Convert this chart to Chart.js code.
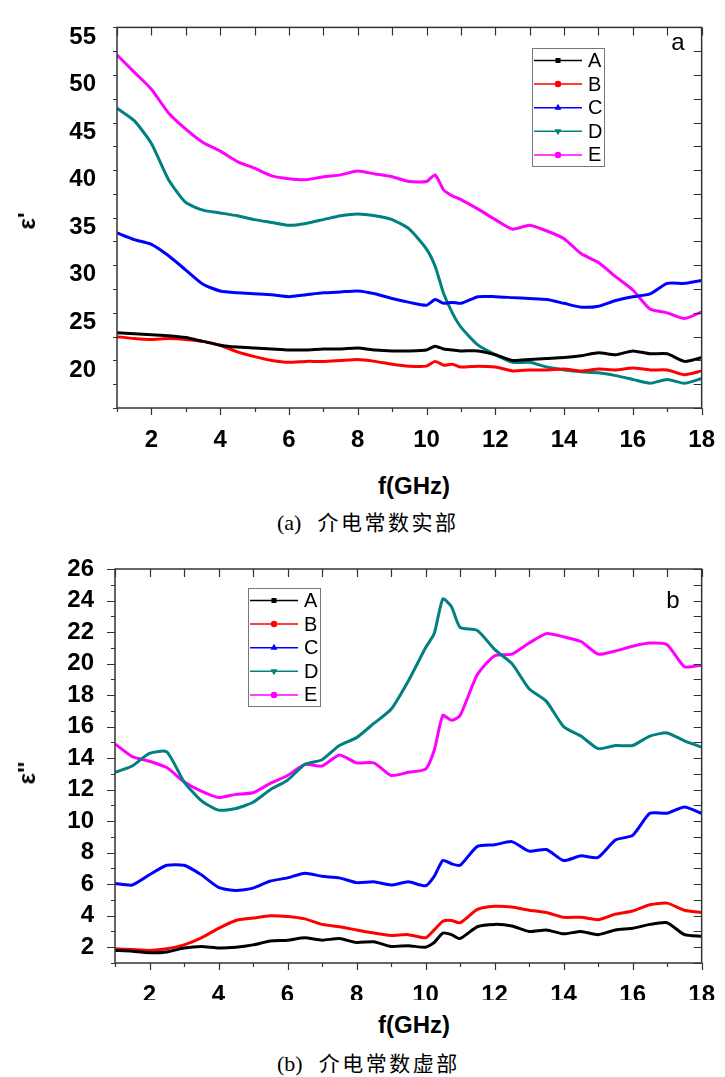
<!DOCTYPE html>
<html>
<head>
<meta charset="utf-8">
<script src="https://cdn.jsdelivr.net/npm/chart.js@4.4.0/dist/chart.umd.min.js"></script>
<style>
    body { margin: 0; background: #fff; width: 725px; height: 1077px; position: relative; overflow: hidden; }
    .wrap { position: absolute; left: 0; width: 725px; }
    .txt { position: absolute; transform: translate(-50%, -50%); white-space: nowrap; color: #000; }
    .bold { font-family: 'Liberation Sans', Arial, sans-serif; font-weight: bold; font-size: 24px; }
    .tag { font-family: 'Liberation Sans', Arial, sans-serif; font-size: 24px; }
    .rot { transform: translate(-50%, -50%) rotate(-90deg); }
    .cap { position: absolute; white-space: nowrap; transform: translateY(-50%); }
    .cap .ser { font-family: 'Liberation Serif', 'Times New Roman', serif; font-size: 22px; }
    .cap .cjk { font-family: 'Noto Sans CJK SC', sans-serif; font-size: 21px; letter-spacing: 2.5px; margin-left: 16px; }
</style>
</head>
<body>

<div class="wrap" style="top:0;height:470px"><canvas id="realChart" width="725" height="470"></canvas></div>
<div class="wrap" style="top:540px;height:460px"><canvas id="imagChart" width="725" height="460"></canvas></div>

<div class="txt bold rot" style="left:27px;top:221px">ε'</div>
<div class="txt bold" style="left:414px;top:486px">f(GHz)</div>
<div class="cap" style="left:277px;top:521px"><span class="ser">(a)</span><span class="cjk">介电常数实部</span></div>
<div class="txt tag" style="left:678px;top:42px">a</div>

<div class="txt bold rot" style="left:27px;top:773px">ε''</div>
<div class="txt bold" style="left:414px;top:1025px">f(GHz)</div>
<div class="cap" style="left:277px;top:1062px"><span class="ser">(b)</span><span class="cjk">介电常数虚部</span></div>
<div class="txt tag" style="left:673px;top:600px">b</div>

<script>
// --- DATA ---

const freq = [1, 1.5, 2, 2.5, 3, 3.5, 4, 4.5, 5, 5.5, 6, 6.5, 7, 7.5, 8, 8.5, 9, 9.5, 10,
    10.25, 10.5, 10.75, 11, 11.5, 12, 12.5, 13, 13.5, 14, 14.5, 15, 15.5, 16, 16.5, 17, 17.5, 18];

const sampleNames = ['A', 'B', 'C', 'D', 'E'];

// (a) real part
const realA = [23.9, 23.8, 23.7, 23.6, 23.4, 23.0, 22.6, 22.4, 22.3, 22.2, 22.1, 22.1, 22.2, 22.2, 22.3, 22.1, 22.0, 22.0, 22.1,
    22.5, 22.2, 22.1, 22.0, 22.0, 21.6, 21.0, 21.1, 21.2, 21.3, 21.5, 21.8, 21.6, 22.0, 21.7, 21.7, 20.9, 21.3];
const realB = [23.5, 23.3, 23.2, 23.3, 23.2, 23.0, 22.6, 21.9, 21.4, 21.0, 20.8, 20.9, 20.9, 21.0, 21.1, 20.9, 20.6, 20.4, 20.4,
    20.9, 20.5, 20.6, 20.3, 20.4, 20.3, 19.9, 20.0, 20.0, 20.1, 19.9, 20.1, 20.0, 20.2, 20.0, 20.0, 19.5, 19.9];
const realC = [34.4, 33.7, 33.2, 32.0, 30.5, 29.0, 28.3, 28.1, 28.0, 27.9, 27.7, 27.9, 28.1, 28.2, 28.3, 28.0, 27.5, 27.1, 26.8,
    27.4, 27.0, 27.1, 27.0, 27.7, 27.7, 27.6, 27.5, 27.4, 27.0, 26.6, 26.7, 27.3, 27.7, 28.0, 29.1, 29.1, 29.4];
const realD = [47.5, 46.2, 43.8, 40.0, 37.6, 36.8, 36.5, 36.2, 35.8, 35.5, 35.2, 35.4, 35.8, 36.2, 36.4, 36.2, 35.8, 34.8, 32.7,
    30.9, 28.0, 26.0, 24.5, 22.6, 21.6, 20.8, 20.8, 20.3, 20.0, 19.8, 19.7, 19.4, 19.0, 18.6, 19.0, 18.6, 19.1];
const realE = [53.1, 51.3, 49.5, 47.0, 45.3, 43.9, 43.0, 41.9, 41.2, 40.4, 40.1, 40.0, 40.3, 40.5, 40.9, 40.6, 40.3, 39.8, 39.8,
    40.5, 38.9, 38.3, 37.9, 36.9, 35.8, 34.8, 35.2, 34.6, 33.8, 32.2, 31.3, 29.8, 28.4, 26.4, 26.0, 25.4, 26.1];

// (b) imaginary part
const imagA = [1.8, 1.75, 1.65, 1.7, 1.95, 2.05, 1.95, 2.0, 2.15, 2.4, 2.45, 2.6, 2.45, 2.55, 2.3, 2.35, 2.05, 2.1, 2.0,
    2.3, 2.9, 2.8, 2.55, 3.3, 3.45, 3.35, 3.0, 3.1, 2.85, 3.0, 2.8, 3.1, 3.2, 3.45, 3.55, 2.8, 2.7];
const imagB = [1.9, 1.85, 1.8, 1.9, 2.15, 2.6, 3.2, 3.7, 3.85, 4.0, 3.95, 3.8, 3.45, 3.3, 3.1, 2.9, 2.75, 2.8, 2.6,
    3.1, 3.65, 3.7, 3.55, 4.4, 4.6, 4.55, 4.35, 4.2, 3.9, 3.9, 3.75, 4.1, 4.3, 4.7, 4.8, 4.35, 4.2];
const imagC = [6.05, 5.95, 6.6, 7.2, 7.2, 6.6, 5.8, 5.6, 5.75, 6.2, 6.4, 6.7, 6.5, 6.4, 6.1, 6.15, 5.95, 6.15, 5.9,
    6.5, 7.5, 7.3, 7.2, 8.4, 8.5, 8.7, 8.1, 8.2, 7.5, 7.8, 7.7, 8.8, 9.1, 10.5, 10.5, 10.9, 10.5];
const imagD = [13.1, 13.5, 14.3, 14.4, 12.5, 11.3, 10.7, 10.8, 11.2, 12.0, 12.6, 13.6, 13.9, 14.8, 15.3, 16.2, 17.1, 18.9, 21.0,
    21.9, 24.1, 23.6, 22.3, 22.1, 20.9, 20.0, 18.4, 17.6, 16.0, 15.4, 14.6, 14.8, 14.8, 15.4, 15.6, 15.1, 14.7];
const imagE = [14.9, 14.1, 13.8, 13.4, 12.5, 11.9, 11.5, 11.7, 11.8, 12.4, 12.9, 13.6, 13.5, 14.2, 13.7, 13.7, 12.9, 13.1, 13.3,
    14.5, 16.7, 16.4, 16.7, 19.3, 20.5, 20.6, 21.3, 21.9, 21.7, 21.4, 20.6, 20.8, 21.1, 21.3, 21.2, 19.8, 19.9];

// tick labels
const xTickLabels = [2, 4, 6, 8, 10, 12, 14, 16, 18];
const realTickLabels = [20, 25, 30, 35, 40, 45, 50, 55];
const imagTickLabels = [2, 4, 6, 8, 10, 12, 14, 16, 18, 20, 22, 24, 26];

const SERIES_STYLE = [
    { color: '#000000', point: 'rect', rot: 0 },
    { color: '#ff0000', point: 'circle', rot: 0 },
    { color: '#0000ff', point: 'triangle', rot: 0 },
    { color: '#008080', point: 'triangle', rot: 180 },
    { color: '#ff00ff', point: 'circle', rot: 0 }
];

const TICK_FONT = { family: "'Liberation Sans', Arial, sans-serif", size: 24, weight: 'bold' };

// --- PLUGINS ---

// frame + tick marks: outward on left/bottom, inward on top/right
const frameTicks = {
    id: 'frameTicks',
    afterDraw(chart, args, o) {
        const { ctx, chartArea: a, scales: { x, y } } = chart;
        ctx.save();
        ctx.strokeStyle = '#333';
        ctx.lineWidth = 1.5;
        ctx.strokeRect(a.left, a.top, a.right - a.left, a.bottom - a.top);
        ctx.lineWidth = 1.2;
        ctx.beginPath();
        for (let v = o.xMin; v <= o.xMax + 1e-6; v += 1) {
            const px = Math.round(x.getPixelForValue(v)) + 0.5;
            const major = v % 2 === 0;
            ctx.moveTo(px, a.bottom); ctx.lineTo(px, a.bottom + (major ? 7 : 4));
            ctx.moveTo(px, a.top); ctx.lineTo(px, a.top + 8);
        }
        for (let v = o.yMin; v <= o.yMax + 1e-6; v += o.yMinor) {
            const py = Math.round(y.getPixelForValue(v)) + 0.5;
            const major = Math.abs(v / o.yMajor - Math.round(v / o.yMajor)) < 1e-6;
            ctx.moveTo(a.left, py); ctx.lineTo(a.left - (major ? 8 : 4), py);
            ctx.moveTo(a.right, py); ctx.lineTo(a.right - 8, py);
        }
        ctx.stroke();
        ctx.restore();
    }
};

// boxed legend placed inside the plot like the original
const boxLegend = {
    id: 'boxLegend',
    afterDraw(chart, args, o) {
        const ctx = chart.ctx;
        ctx.save();
        ctx.strokeStyle = '#777';
        ctx.lineWidth = 1;
        ctx.strokeRect(o.left + 0.5, o.top + 0.5, o.width, o.height);
        ctx.font = "20px 'Liberation Sans', Arial, sans-serif";
        ctx.textBaseline = 'middle';
        chart.data.datasets.forEach((ds, i) => {
            const cy = o.top + o.first + i * o.step;
            ctx.strokeStyle = ds.borderColor;
            ctx.fillStyle = ds.borderColor;
            ctx.lineWidth = 1.5;
            ctx.beginPath();
            ctx.moveTo(o.lineX0, cy);
            ctx.lineTo(o.lineX1, cy);
            ctx.stroke();
            Chart.helpers.drawPoint(ctx, { pointStyle: ds.pointStyle, rotation: ds.pointRotation, radius: 2.5, borderWidth: 1 },
                (o.lineX0 + o.lineX1) / 2, cy);
            ctx.fillStyle = '#000';
            ctx.fillText(ds.label, o.textX, cy + 1);
        });
        ctx.restore();
    }
};

// --- CHART BUILDER ---

function makeDatasets(seriesList) {
    return seriesList.map((vals, i) => ({
        label: sampleNames[i],
        data: freq.map((f, k) => ({ x: f, y: vals[k] })),
        borderColor: SERIES_STYLE[i].color,
        backgroundColor: SERIES_STYLE[i].color,
        borderWidth: 3,
        pointRadius: 0,
        pointStyle: SERIES_STYLE[i].point,
        pointRotation: SERIES_STYLE[i].rot,
        tension: 0.2
    }));
}

function buildChart(canvasId, seriesList, cfg) {
    const canvas = document.getElementById(canvasId);
    return new Chart(canvas.getContext('2d'), {
        type: 'line',
        data: { datasets: makeDatasets(seriesList) },
        options: {
            responsive: false,
            animation: false,
            layout: { padding: { left: 0, top: cfg.top, right: cfg.right, bottom: 0 } },
            plugins: {
                legend: { display: false },
                tooltip: { enabled: false },
                frameTicks: { xMin: 1, xMax: 18, yMin: cfg.yMin, yMax: cfg.yMax, yMinor: cfg.yMinor, yMajor: cfg.yMajor },
                boxLegend: cfg.legend
            },
            scales: {
                x: {
                    type: 'linear',
                    min: 1,
                    max: 18,
                    grid: { display: false },
                    border: { display: false },
                    afterBuildTicks: s => { s.ticks = xTickLabels.map(v => ({ value: v })); },
                    afterFit: s => { s.height = cfg.xHeight; },
                    ticks: { color: '#000', font: TICK_FONT, padding: 10, maxRotation: 0 }
                },
                y: {
                    min: cfg.yMin,
                    max: cfg.yMax,
                    grid: { display: false },
                    border: { display: false },
                    afterBuildTicks: s => { s.ticks = cfg.yTicks.map(v => ({ value: v })); },
                    afterFit: s => { s.width = cfg.left; },
                    ticks: { color: '#000', font: TICK_FONT, padding: 13 }
                }
            }
        },
        plugins: [frameTicks, boxLegend]
    });
}

// --- INIT ---

buildChart('realChart', [realA, realB, realC, realD, realE], {
    top: 15, right: 16, left: 117, xHeight: 62,
    yMin: 16, yMax: 56, yMinor: 2.5, yMajor: 5, yTicks: realTickLabels,
    legend: { left: 532, top: 48, width: 72, height: 118, first: 12.5, step: 23.6, lineX0: 534, lineX1: 582, textX: 588 }
});

buildChart('imagChart', [imagA, imagB, imagC, imagD, imagE], {
    top: 29, right: 18, left: 115, xHeight: 37,
    yMin: 1, yMax: 26, yMinor: 1, yMajor: 2, yTicks: imagTickLabels,
    legend: { left: 248, top: 48, width: 72, height: 118, first: 12.5, step: 23.6, lineX0: 250, lineX1: 298, textX: 304 }
});
</script>
</body>
</html>
